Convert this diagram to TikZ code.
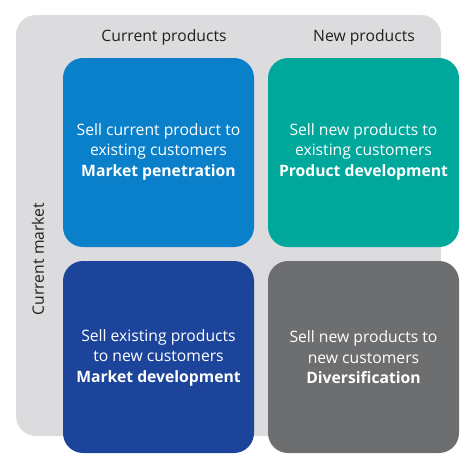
\documentclass[tikz,border=0pt]{standalone}
\usepackage{fontspec}
\setmainfont{Open Sans}
\definecolor{bggray}{HTML}{DCDCDE}
\definecolor{cpblue}{HTML}{0A80CB}
\definecolor{npteal}{HTML}{00A89C}
\definecolor{mddblue}{HTML}{1D449B}
\definecolor{divgray}{HTML}{6D6E70}
\definecolor{hdrtext}{HTML}{231F20}
\begin{document}
\begin{tikzpicture}[x=1pt,y=-1pt,
  quad/.style={rounded corners=20pt},
  qtext/.style={text=white,align=center,font=\fontsize{15.7}{20.5}\selectfont},
  hdr/.style={text=hdrtext,font=\fontsize{15.7}{18}\selectfont}]
\useasboundingbox (0,0) rectangle (474,472);
\fill[bggray,rounded corners=20pt] (16,15) rectangle (441,436);
\fill[cpblue,quad] (63,58) rectangle (254,247);
\fill[npteal,quad] (268,58) rectangle (459,247);
\fill[mddblue,quad] (63,261) rectangle (254,453);
\fill[divgray,quad] (268,261) rectangle (459,453);
\node[qtext] (pen) at (158.5,151.5) {Sell current product to\\existing customers\\\textbf{Market penetration}};
\node[qtext] (pdev) at (363.5,151.5) {Sell new products to\\existing customers\\\textbf{Product development}};
\node[qtext] (mdev) at (158.5,357.5) {Sell existing products\\to new customers\\\textbf{Market development}};
\node[qtext] (div) at (363.5,357.5) {Sell new products to\\new customers\\\textbf{Diversification}};
\node[hdr] (cp) at (164,37) {Current products};
\node[hdr] (np) at (364,37) {New products};
\node[hdr,rotate=90] (cm) at (38,259) {Current market};
\end{tikzpicture}
\end{document}
